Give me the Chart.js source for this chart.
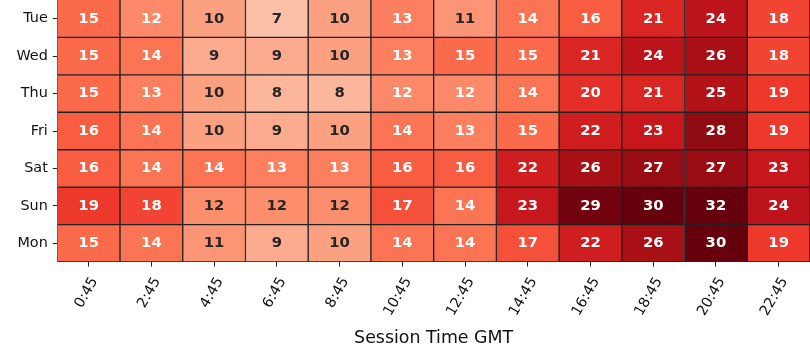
<!DOCTYPE html>
<html><head><meta charset="utf-8">
<script src="https://cdn.jsdelivr.net/npm/chart.js@4"></script>
<style>html,body{margin:0;padding:0;background:#fff;overflow:hidden}canvas{display:block}</style>
</head><body>
<canvas id="c" width="810" height="360"></canvas>
<script>
const days = ['Tue','Wed','Thu','Fri','Sat','Sun','Mon'];
const times = ['0:45','2:45','4:45','6:45','8:45','10:45','12:45','14:45','16:45','18:45','20:45','22:45'];
const tue = [15, 12, 10, 7, 10, 13, 11, 14, 16, 21, 24, 18];
const wed = [15, 14, 9, 9, 10, 13, 15, 15, 21, 24, 26, 18];
const thu = [15, 13, 10, 8, 8, 12, 12, 14, 20, 21, 25, 19];
const fri = [16, 14, 10, 9, 10, 14, 13, 15, 22, 23, 27.5, 19];
const sat = [16, 14, 14, 13, 13, 16, 16, 22, 26, 27, 27, 23];
const sun = [19, 18, 11.6, 11.6, 11.6, 17, 14, 23, 29.4, 30, 32, 24];
const mon = [15, 14, 11, 9, 10, 14, 14, 17, 22, 26, 30, 19];
const rows = [tue, wed, thu, fri, sat, sun, mon];
const vmin = 0, vmax = 30;

const REDS = [[255,245,240],[254,224,210],[252,187,161],[252,146,114],[251,106,74],[239,59,44],[203,24,29],[165,15,21],[103,0,13]];
function cmap(v){
  let t = (v - vmin) / (vmax - vmin); t = Math.max(0, Math.min(1, t));
  const p = t * 8; const i = Math.min(7, Math.floor(p)); const f = p - i;
  const a = REDS[i], b = REDS[i+1];
  return a.map((c,k) => c + (b[k]-c)*f);
}
function lum(rgb){
  const l = rgb.map(c => { c /= 255; return c <= 0.03928 ? c/12.92 : Math.pow((c+0.055)/1.055, 2.4); });
  return 0.2126*l[0] + 0.7152*l[1] + 0.0722*l[2];
}
const css = rgb => 'rgb(' + rgb.map(Math.round).join(',') + ')';

const annot = {
  id: 'annot',
  afterDatasetsDraw(chart){
    const ctx = chart.ctx; ctx.save();
    ctx.font = 'bold 14.8px "DejaVu Sans"';
    ctx.textAlign = 'center'; ctx.textBaseline = 'middle';
    chart.data.datasets.forEach((ds, i) => {
      chart.getDatasetMeta(i).data.forEach((el, j) => {
        const v = ds.values[j];
        ctx.fillStyle = lum(cmap(v)) > 0.408 ? '#262626' : '#ffffff';
        ctx.fillText(String(Math.round(v)), el.x, (el.y + el.base) / 2);
      });
    });
    ctx.restore();
  }
};

const font = {family: 'DejaVu Sans', size: 14.4};
new Chart(document.getElementById('c'), {
  type: 'bar',
  data: {
    labels: times,
    datasets: rows.map((r, i) => ({
      label: days[i],
      values: r,
      data: times.map(() => 1),
      backgroundColor: r.map(v => css(cmap(v))),
      borderColor: '#222222',
      borderWidth: 1,
      borderSkipped: i === 0 ? 'start' : false,
      barPercentage: 1,
      categoryPercentage: 1
    }))
  },
  options: {
    responsive: false, animation: false, devicePixelRatio: 1,
    layout: {padding: {left: 0, top: 0, bottom: 0, right: -1}},
    plugins: {legend: {display: false}, tooltip: {enabled: false}},
    scales: {
      x: {
        stacked: true, offset: true,
        grid: {offset: false, drawOnChartArea: false, tickLength: 4.5, color: '#222222'},
        border: {display: false},
        ticks: {minRotation: 60, maxRotation: 60, autoSkip: false, font: font, color: '#111111', padding: 8, labelOffset: 6},
        title: {display: true, text: 'Session Time GMT', font: {family: 'DejaVu Sans', size: 17.4}, color: '#111111', padding: {top: 0, bottom: 10.6}},
        afterFit(s){ s.height = 98; s.paddingLeft = 0; s.paddingRight = 0; }
      },
      y: {
        stacked: true, reverse: true, min: 0, max: 7,
        grid: {drawOnChartArea: false, tickLength: 4.5, color: '#222222'},
        border: {display: false},
        afterBuildTicks(s){ s.ticks = days.map((d, i) => ({value: i + 0.5})); },
        ticks: {font: font, color: '#111111', padding: 5, callback: (v, i) => days[i]},
        afterFit(s){ s.width = 57.3; s.paddingTop = 0; s.paddingBottom = 0; }
      }
    }
  },
  plugins: [annot]
});
</script>
</body></html>
